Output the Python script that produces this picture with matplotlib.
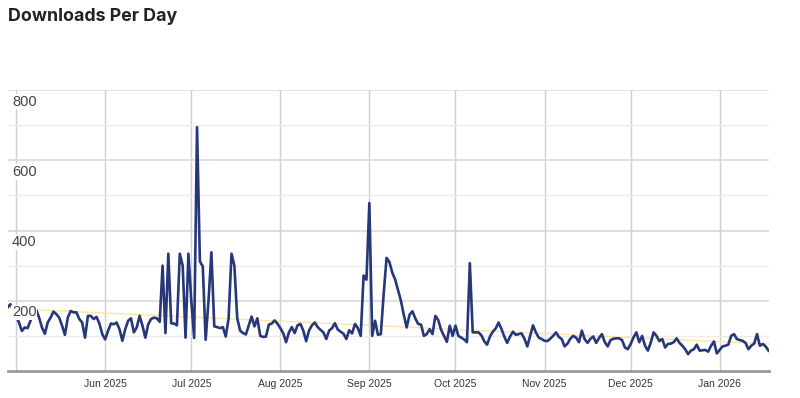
import numpy as np
import pandas as pd
import matplotlib
matplotlib.use("Agg")
import matplotlib.pyplot as plt

# daily downloads, 28 Apr 2025 .. 18 Jan 2026
downloads = [
    181, 190, 176, 157, 138, 114, 124, 122, 143, 168,
    174, 152, 124, 106, 138, 152, 169, 162, 152, 129,
    103, 152, 171, 167, 167, 148, 138, 95, 157, 157,
    148, 154, 135, 105, 90, 114, 135, 133, 138, 119,
    86, 119, 143, 150, 110, 124, 157, 129, 95, 133,
    148, 152, 150, 140, 300, 108, 334, 136, 135, 130,
    334, 300, 95, 334, 200, 94, 694, 312, 298, 89,
    200, 338, 127, 125, 122, 125, 98, 150, 334, 300,
    150, 115, 108, 104, 130, 155, 127, 150, 100, 97,
    98, 132, 135, 144, 135, 122, 108, 82, 110, 125,
    108, 130, 134, 115, 85, 115, 130, 138, 125, 117,
    110, 91, 115, 122, 136, 118, 112, 106, 91, 116,
    107, 134, 122, 100, 272, 260, 478, 100, 143, 103,
    105, 220, 322, 310, 280, 260, 230, 200, 160, 124,
    160, 170, 150, 134, 132, 100, 105, 119, 105, 157,
    145, 117, 100, 83, 129, 100, 129, 100, 95, 90,
    82, 307, 110, 110, 110, 102, 85, 75, 98, 112,
    121, 138, 120, 98, 80, 98, 112, 103, 105, 107,
    92, 70, 100, 130, 110, 95, 91, 86, 85, 92,
    100, 110, 97, 91, 70, 78, 92, 100, 95, 82,
    115, 90, 80, 92, 98, 80, 94, 105, 82, 70,
    88, 92, 93, 93, 88, 67, 62, 77, 96, 110,
    82, 100, 72, 58, 81, 110, 100, 85, 91, 67,
    77, 78, 82, 93, 80, 72, 62, 48, 58, 62,
    75, 58, 59, 60, 55, 72, 84, 50, 60, 70,
    72, 75, 100, 105, 91, 88, 86, 80, 62, 72,
    78, 105, 72, 77, 70, 58,
]
dates = pd.date_range("2025-04-28", periods=len(downloads), freq="D")

trend = [178, 77]   # trend line, first and last day
month_ticks = pd.date_range("2025-05-01", "2026-01-01", freq="MS")
month_labels = [""] + [d.strftime("%b %Y") for d in month_ticks[1:]]
y_labels = [200, 400, 600, 800]

fig = plt.figure(figsize=(8, 3.98), dpi=100)
ax = fig.add_axes([7.5 / 800, 27 / 398, 761 / 800, 281 / 398])

ax.plot([dates[0], dates[-1]], trend, color="#ffe3a3", lw=1.0, zorder=2)
ax.plot(dates, downloads, color="#26377a", lw=1.9, solid_joinstyle="round", zorder=3)

ax.set_xlim(dates[0], dates[-1])
ax.set_ylim(0, 800)

ax.set_yticks(y_labels)
ax.set_yticks([100, 300, 500, 700], minor=True)
ax.set_xticks(month_ticks)
ax.set_xticklabels(month_labels)
ax.grid(axis="y", which="major", color="#d6d6d6", lw=1.1, zorder=0)
ax.grid(axis="y", which="minor", color="#ececec", lw=1.0, zorder=0)
ax.grid(axis="x", which="major", color="#cfcfcf", lw=1.0, zorder=0)
ax.tick_params(axis="y", which="both", left=False, labelleft=False)
ax.tick_params(axis="x", length=0, pad=6, labelsize=7.5, labelcolor="#2e3440")
for lab in ax.get_xticklabels():
    lab.set_family(["Liberation Sans", "DejaVu Sans"])

for s in ["top", "right", "left"]:
    ax.spines[s].set_visible(False)
ax.spines["bottom"].set_color("#9a9a9a")
ax.spines["bottom"].set_linewidth(2)

for v in y_labels:
    ax.text(0.006, v - 13, str(v), transform=ax.get_yaxis_transform(),
            ha="left", va="top", fontsize=10.5, color="#444444",
            family=["Liberation Sans", "DejaVu Sans"],
            zorder=5, bbox=dict(facecolor="white", edgecolor="none", pad=0.5))

fig.text(8 / 800, 1 - 8 / 398, "Downloads Per Day", ha="left", va="top",
         fontsize=12.8, fontweight="bold", color="#222222", family=["Inter", "DejaVu Sans"])

fig.savefig("out.png", dpi=100)
